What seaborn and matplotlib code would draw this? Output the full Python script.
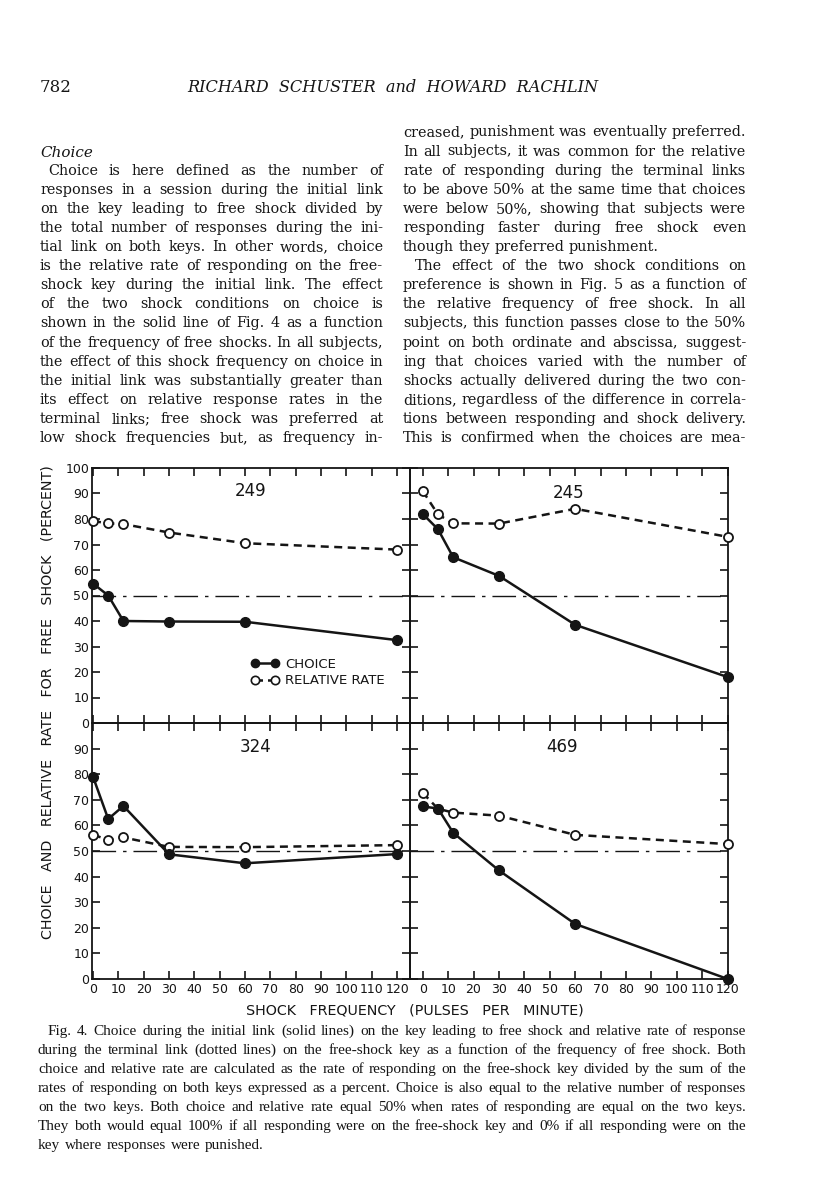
import matplotlib
matplotlib.use('Agg')
import matplotlib.pyplot as plt
from matplotlib.lines import Line2D
import seaborn as sns

# shock frequency (pulses per minute) and percent values
freq = [0, 6, 12, 30, 60, 120]
subjects = ['249', '245', '324', '469']
choice_249 = [54.7, 50.0, 40.0, 39.8, 39.7, 32.5]
rel_249 = [79.2, 78.3, 78.0, 74.7, 70.5, 68.0]
choice_245 = [82.0, 76.0, 65.0, 57.7, 38.5, 18.0]
rel_245 = [91.0, 81.8, 78.3, 78.2, 84.0, 73.0]
choice_324 = [79.0, 62.5, 67.6, 48.7, 45.2, 48.8]
rel_324 = [56.4, 54.3, 55.3, 51.6, 51.5, 52.3]
choice_469 = [67.4, 66.6, 57.1, 42.4, 21.5, 0.0]
rel_469 = [72.7, 66.5, 65.0, 63.8, 56.3, 52.7]
indiff = 50
xticks = list(range(0, 121, 10))
yticks = list(range(0, 101, 10))

# page text
left_col = [
    "Choice is here defined as the number of",
    "responses in a session during the initial link",
    "on the key leading to free shock divided by",
    "the total number of responses during the ini-",
    "tial link on both keys. In other words, choice",
    "is the relative rate of responding on the free-",
    "shock key during the initial link. The effect",
    "of the two shock conditions on choice is",
    "shown in the solid line of Fig. 4 as a function",
    "of the frequency of free shocks. In all subjects,",
    "the effect of this shock frequency on choice in",
    "the initial link was substantially greater than",
    "its effect on relative response rates in the",
    "terminal links; free shock was preferred at",
    "low shock frequencies but, as frequency in-",
]
right_col = [
    "creased, punishment was eventually preferred.",
    "In all subjects, it was common for the relative",
    "rate of responding during the terminal links",
    "to be above 50% at the same time that choices",
    "were below 50%, showing that subjects were",
    "responding faster during free shock even",
    "though they preferred punishment.",
    "The effect of the two shock conditions on",
    "preference is shown in Fig. 5 as a function of",
    "the relative frequency of free shock. In all",
    "subjects, this function passes close to the 50%",
    "point on both ordinate and abscissa, suggest-",
    "ing that choices varied with the number of",
    "shocks actually delivered during the two con-",
    "ditions, regardless of the difference in correla-",
    "tions between responding and shock delivery.",
    "This is confirmed when the choices are mea-",
]
caption = [
    "Fig. 4. Choice during the initial link (solid lines) on the key leading to free shock and relative rate of response",
    "during the terminal link (dotted lines) on the free-shock key as a function of the frequency of free shock. Both",
    "choice and relative rate are calculated as the rate of responding on the free-shock key divided by the sum of the",
    "rates of responding on both keys expressed as a percent. Choice is also equal to the relative number of responses",
    "on the two keys. Both choice and relative rate equal 50% when rates of responding are equal on the two keys.",
    "They both would equal 100% if all responding were on the free-shock key and 0% if all responding were on the",
    "key where responses were punished.",
]

sns.set_theme(style='white')
plt.rcParams['font.family'] = ['DejaVu Sans']
INK = '#151515'
BODY = 'DejaVu Serif'
CAP = 'Liberation Serif'

W, H = 816, 1200
fig = plt.figure(figsize=(W / 100, H / 100), dpi=100)
fig.patch.set_facecolor('white')
renderer = fig.canvas.get_renderer()


def fx(x):
    return x / W


def fy(y):
    return 1 - y / H


def word_widths(line, size, **kw):
    out = []
    for w in line.split():
        t = fig.text(0, 0, w, fontsize=size, **kw)
        out.append(t.get_window_extent(renderer).width)
        t.remove()
    return out


def best_size(lines, width, target, min_gap=3.5, **kw):
    # largest size (up to target) at which every line fits its column
    s = target
    for line, wd in lines:
        ws = word_widths(line, 10, **kw)
        room = wd - (len(ws) - 1) * min_gap
        s = min(s, 10 * room / sum(ws))
    return s


def set_line(line, x0, x1, y, size, justify=True, **kw):
    words = line.split()
    texts = [fig.text(0, 0, w, fontsize=size, ha='left', va='baseline',
                      color=INK, **kw) for w in words]
    widths = [t.get_window_extent(renderer).width for t in texts]
    if justify and len(words) > 1:
        gap = (x1 - x0 - sum(widths)) / (len(words) - 1)
    else:
        gap = size * 0.42
    x = x0
    for t, w in zip(texts, widths):
        t.set_position((fx(x), fy(y)))
        x += w + gap


def fit_text(x, y, s, width, size, **kw):
    t = fig.text(fx(x), fy(y), s, fontsize=size, color=INK, **kw)
    ext = t.get_window_extent(renderer)
    long_side = max(ext.width, ext.height)
    t.set_fontsize(size * width / long_side)
    return t


# running head
fig.text(fx(40), fy(92), '782', fontsize=12, family=BODY, color=INK,
         ha='left', va='baseline')
fit_text(393, 92, 'RICHARD  SCHUSTER  and  HOWARD  RACHLIN', 410, 12,
         family=BODY, style='italic', ha='center', va='baseline')

# body text, two justified columns
step = 19.1
left_x = [(48 if i == 0 else 40, 383) for i in range(len(left_col))]
right_x = [(415 if i == 7 else 403, 746) for i in range(len(right_col))]
just_lines = [(l, b - a) for l, (a, b) in zip(left_col, left_x)]
just_lines += [(l, b - a) for i, (l, (a, b)) in
               enumerate(zip(right_col, right_x)) if i != 6]
body_size = best_size(just_lines, None, 11.0, family=BODY)

fig.text(fx(40), fy(157), 'Choice', fontsize=body_size + 0.5, family=BODY,
         style='italic', color=INK, ha='left', va='baseline')
for i, line in enumerate(left_col):
    y = 438 - (len(left_col) - 1 - i) * step + 4
    set_line(line, *left_x[i], y, body_size, family=BODY)
for i, line in enumerate(right_col):
    y = 438 - (len(right_col) - 1 - i) * step + 4
    set_line(line, *right_x[i], y, body_size, justify=(i != 6), family=BODY)

# the four panels
panels = [
    ('249', choice_249, rel_249, [92, 468, 318, 255], (-0.4, 125.1)),
    ('245', choice_245, rel_245, [410, 468, 318, 255], (-5.0, 120.1)),
    ('324', choice_324, rel_324, [92, 723, 318, 256], (-0.4, 125.1)),
    ('469', choice_469, rel_469, [410, 723, 318, 256], (-5.0, 120.1)),
]
label_pos = {'249': (0.50, 0.91), '245': (0.50, 0.90),
             '324': (0.515, 0.905), '469': (0.478, 0.905)}

axes = []
for k, (name, ch, rl, box, xlim) in enumerate(panels):
    x0, y0, w, h = box
    ax = fig.add_axes([fx(x0), fy(y0 + h), w / W, h / H])
    axes.append(ax)
    ax.axhline(indiff, color=INK, lw=1.0, dashes=(17, 5, 2.5, 5))
    sns.lineplot(x=freq, y=rl, ax=ax, color=INK, lw=1.8,
                 linestyle=(0, (3.2, 2.2)), marker='o', markersize=6.5,
                 markerfacecolor='white', markeredgecolor=INK,
                 markeredgewidth=1.3, clip_on=False, zorder=3)
    sns.lineplot(x=freq, y=ch, ax=ax, color=INK, lw=1.8, marker='o',
                 markersize=7, markeredgecolor=INK, markeredgewidth=1,
                 clip_on=False, zorder=4)
    ax.set_xlim(*xlim)
    ax.set_ylim(0, 100)
    ax.set_xticks(xticks)
    ax.set_yticks(yticks)
    ax.set_xlabel('')
    ax.set_ylabel('')
    ax.set_facecolor('none')
    for sp in ax.spines.values():
        sp.set_visible(True)
        sp.set_color(INK)
        sp.set_linewidth(1.3)
    ax.tick_params(direction='in', length=6, width=1.2, colors=INK,
                   top=True, bottom=True, left=True, right=True,
                   labelsize=9, pad=3)
    ax.tick_params(axis='y', pad=2)
    top_row = k < 2
    left_side = k % 2 == 0
    ax.tick_params(labelbottom=not top_row, labelleft=left_side)
    if left_side and not top_row:
        ax.set_yticklabels([str(v) for v in yticks[:-1]] + [''])
    ax.text(*label_pos[name], name, transform=ax.transAxes, fontsize=12,
            ha='center', va='center', color=INK)

handles = [
    Line2D([], [], color=INK, lw=1.8, marker='o', markersize=6,
           markeredgecolor=INK),
    Line2D([], [], color=INK, lw=1.8, linestyle=(0, (3, 2)), marker='o',
           markersize=6, markerfacecolor='white', markeredgecolor=INK,
           markeredgewidth=1.2),
]
leg = axes[0].legend(handles, ['CHOICE', 'RELATIVE RATE'], loc='upper left',
                     bbox_to_anchor=(0.5, 0.255), frameon=False, numpoints=2,
                     handlelength=2.1, handletextpad=0.5, labelspacing=0.25,
                     borderpad=0, borderaxespad=0, fontsize=9.5)
for t in leg.get_texts():
    t.set_color(INK)

# axis titles shared by the four panels
fit_text(48, 702, 'CHOICE   AND   RELATIVE   RATE   FOR   FREE   SHOCK   (PERCENT)',
         478, 9.5, rotation=90, ha='center', va='center')
fit_text(415, 1011, 'SHOCK   FREQUENCY   (PULSES   PER   MINUTE)', 340, 9.5,
         ha='center', va='center')

# caption
cap_x = [(48 if i == 0 else 38, 746) for i in range(len(caption))]
cap_size = best_size([(l, b - a) for l, (a, b) in
                      zip(caption[:-1], cap_x[:-1])], None, 11.0,
                     min_gap=3.0, family=CAP)
for i, line in enumerate(caption):
    y = 1031 + i * 19 + 4
    set_line(line, *cap_x[i], y, cap_size, justify=(i != len(caption) - 1),
             family=CAP)

fig.savefig('out.png', dpi=100)
